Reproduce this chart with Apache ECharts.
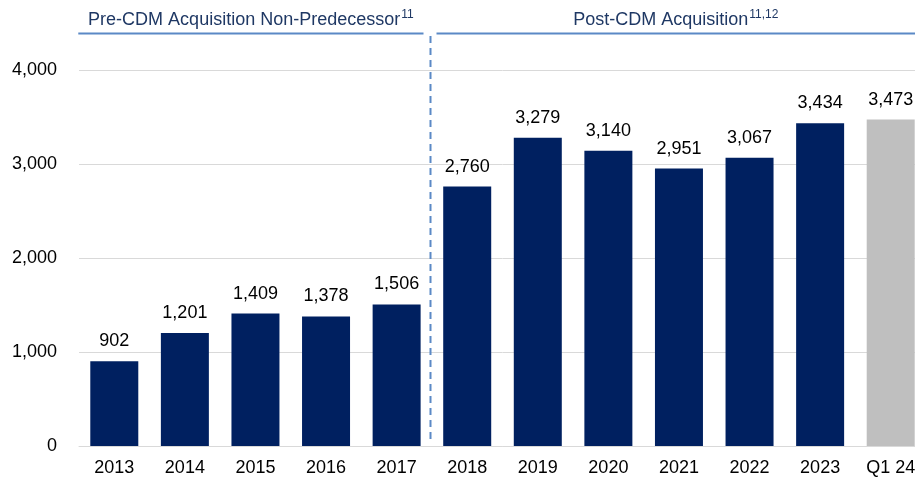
<!DOCTYPE html>
<html>
<head>
<meta charset="utf-8">
<title>Pre / Post CDM Acquisition</title>
<script src="https://cdn.jsdelivr.net/npm/echarts@6/dist/echarts.min.js"></script>
</head>
<body style="margin:0;overflow:hidden">
<!-- chart is a bit wider than the window: the last bar is cut off at the edge, as in the original -->
<div id="main" style="width:926px;height:478px;"></div>
<script type="text/javascript">
// categories and values
var years = ['2013', '2014', '2015', '2016', '2017', '2018', '2019', '2020', '2021', '2022', '2023', 'Q1 24'];
var values = [902, 1201, 1409, 1378, 1506, 2760, 3279, 3140, 2951, 3067, 3434, 3473];
var yTicks = [0, 1000, 2000, 3000, 4000];
var leftHeader = 'Pre-CDM Acquisition Non-Predecessor';
var leftSup = '11';
var rightHeader = 'Post-CDM Acquisition';
var rightSup = '11,12';
var splitIndex = 5; // first post-acquisition bar

var navy = '#002060';
var grey = '#bfbfbf';
var lineBlue = '#5b89c6';
var font = "'Liberation Sans', Arial, sans-serif";
var viewW = 915;

function fmt(v) {
    return String(v).replace(/\B(?=(\d{3})+(?!\d))/g, ',');
}

var chart = echarts.init(document.getElementById('main'));

var barData = values.map(function (v, i) {
    return {
        value: v,
        itemStyle: { color: i == values.length - 1 ? grey : navy }
    };
});

var option = {
    animation: false,
    textStyle: { fontFamily: font },
    grid: { left: 79, right: 0, top: 70, bottom: 32 },
    xAxis: {
        type: 'category',
        data: years,
        axisLine: { lineStyle: { color: '#d9d9d9', width: 1 } },
        axisTick: { show: false },
        axisLabel: { color: '#000', fontSize: 18, margin: 13, fontFamily: font }
    },
    yAxis: {
        type: 'value',
        min: yTicks[0],
        max: yTicks[yTicks.length - 1],
        interval: 1000,
        axisLine: { show: false },
        axisTick: { show: false },
        splitLine: { lineStyle: { color: '#d9d9d9', width: 1 } },
        axisLabel: {
            color: '#000', fontSize: 18, margin: 22, fontFamily: font,
            formatter: function (v) { return fmt(v); }
        }
    },
    series: [{
        type: 'bar',
        barWidth: 48,
        data: barData,
        label: {
            show: true,
            position: 'top',
            distance: 11,
            color: '#000',
            fontSize: 18,
            fontFamily: font,
            formatter: function (p) { return fmt(p.value); }
        }
    }]
};
chart.setOption(option);

// header bands + divider, positioned from the axis scale
var xa = chart.convertToPixel({ xAxisIndex: 0 }, splitIndex - 1);
var xb = chart.convertToPixel({ xAxisIndex: 0 }, splitIndex);
var divX = Math.round((xa + xb) / 2) - 1.5;
var x0 = chart.convertToPixel({ xAxisIndex: 0 }, 0) - 36;
var yZero = chart.convertToPixel({ yAxisIndex: 0 }, 0);
var lineY = 33.5;

function header(text, sup, cx) {
    return {
        type: 'text',
        x: cx, y: 18,
        style: {
            text: '{m|' + text + '}{s|' + sup + '}',
            align: 'center',
            verticalAlign: 'middle',
            rich: {
                m: { fontSize: 18, fontFamily: font, fill: '#1f3864', lineHeight: 22, verticalAlign: 'bottom' },
                s: { fontSize: 12, fontFamily: font, fill: '#1f3864', lineHeight: 22, verticalAlign: 'top', padding: [2, 0, 0, 1] }
            }
        }
    };
}

chart.setOption({
    graphic: [
        { type: 'line', shape: { x1: x0, y1: lineY, x2: divX - 7, y2: lineY }, style: { stroke: lineBlue, lineWidth: 2 } },
        { type: 'line', shape: { x1: divX + 6, y1: lineY, x2: viewW, y2: lineY }, style: { stroke: lineBlue, lineWidth: 2 } },
        { type: 'line', shape: { x1: divX, y1: 36, x2: divX, y2: yZero - 4 }, style: { stroke: lineBlue, lineWidth: 2, lineDash: [7, 5] } },
        header(leftHeader, leftSup, (x0 + divX - 7) / 2),
        header(rightHeader, rightSup, (divX + 6 + viewW) / 2)
    ]
});
</script>
</body>
</html>
